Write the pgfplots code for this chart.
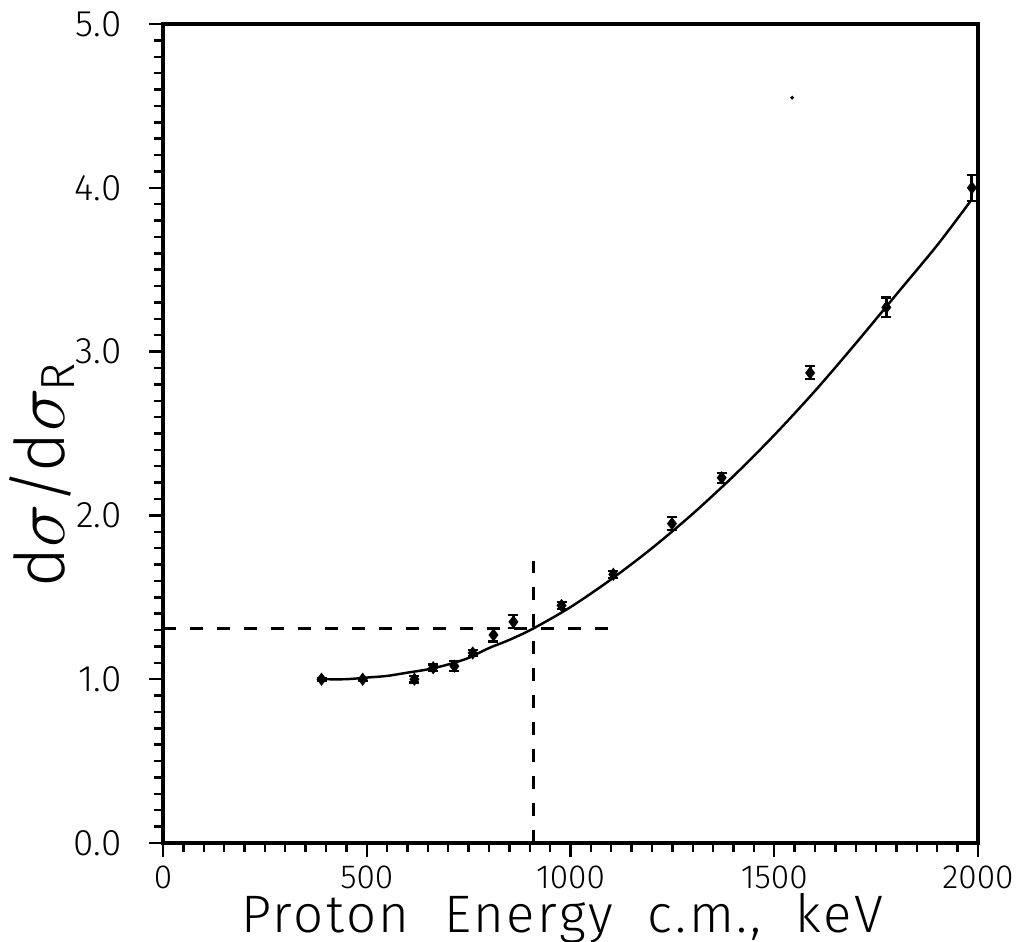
\documentclass[border=0pt]{standalone}
\usepackage{fontspec}
\setmainfont{Fira Sans}[UprightFont={* Light}]
\newfontfamily\widefont{Fira Sans}[UprightFont={* Light}, LetterSpace=5]
\usepackage{pgfplots}
\pgfplotsset{compat=1.18}

% measured data points with vertical error bars
\pgfplotstableread{
x     y     e
389   1.00  0.01
490   1.00  0.01
617   1.00  0.02
663   1.07  0.02
715   1.08  0.03
760   1.16  0.02
811   1.27  0.04
860   1.35  0.04
978   1.45  0.02
1105  1.64  0.02
1249  1.95  0.04
1371  2.23  0.03
1588  2.87  0.04
1775  3.27  0.06
1985  4.00  0.08
}\measured

% fitted curve
\pgfplotstableread{
x     y
389   1.00
450   1.00
500   1.01
550   1.02
600   1.04
650   1.06
700   1.09
750   1.13
800   1.19
850   1.24
909   1.31
1000  1.44
1100  1.61
1200  1.80
1300  2.01
1400  2.24
1500  2.49
1600  2.76
1700  3.05
1800  3.35
1900  3.65
1985  3.93
}\fit

\begin{document}
\begin{tikzpicture}
\path[use as bounding box] (-16.3mm,-9.9mm) rectangle (85.4mm,84.3mm);
\begin{axis}[
  at={(0,0)}, anchor=south west,
  scale only axis, width=81.5mm, height=81.9mm,
  xmin=0, xmax=2000, ymin=0, ymax=5,
  xtick={0,500,...,2000}, minor x tick num=9,
  ytick={0,1,...,5}, minor y tick num=9,
  tick align=outside, xtick pos=bottom, ytick pos=left,
  major tick length=1.4mm, minor tick length=0.9mm,
  axis line style={line width=0.9pt},
  every tick/.style={black, line width=0.7pt},
  /pgf/number format/assume math mode=true,
  xticklabel style={font=\fontsize{9.5}{11}\selectfont, inner sep=0pt, anchor=north, yshift=-0.8mm,
    /pgf/number format/1000 sep={}},
  yticklabel style={font=\fontsize{10.5}{12}\selectfont, inner sep=0pt, anchor=east, xshift=-2.7mm,
    /pgf/number format/fixed, /pgf/number format/fixed zerofill, /pgf/number format/precision=1},
  xlabel={Proton\ \ Energy\ \ c.m.,\ \ keV},
  xlabel style={font=\widefont\fontsize{15}{17}\selectfont, at={(axis description cs:0.49,0)}, anchor=base, yshift=-8.95mm},
  ylabel={d$\sigma$/d$\sigma_{\mathrm{R}}$},
  ylabel style={font=\fontsize{19.5}{23}\selectfont, at={(axis description cs:0,0.45)}, anchor=center, yshift=12.1mm},
]
\addplot[black, line width=0.7pt, smooth, no marks] table[x=x, y=y] {\fit};
\addplot[black, only marks, mark=diamond*, mark size=0.55mm,
  error bars/.cd, y dir=both, y explicit,
  error bar style={line width=0.8pt},
  error mark options={rotate=90, mark size=0.5mm, line width=0.6pt}]
  table[x=x, y=y, y error=e] {\measured};
\addplot[black, line width=0.8pt, dash pattern=on 1.3mm off 1.4mm] coordinates {(0,1.31) (1100,1.31)};
\addplot[black, line width=0.8pt, dash pattern=on 1.3mm off 1.4mm] coordinates {(909,0) (909,1.72)};
\addplot[black, only marks, mark=*, mark size=0.3pt] coordinates {(1544,4.55)};
\end{axis}
\end{tikzpicture}
\end{document}
